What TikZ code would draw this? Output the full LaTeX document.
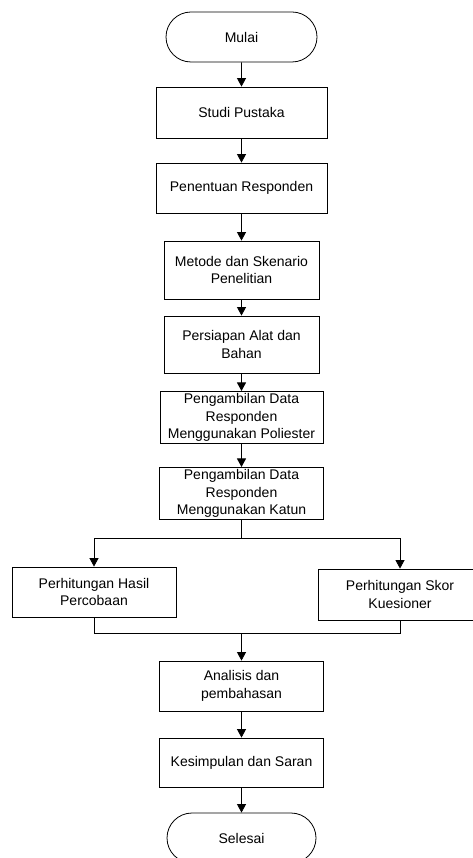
\documentclass[tikz,border=0pt]{standalone}
\usepackage{fontspec}
\setmainfont{Liberation Sans}
\usetikzlibrary{shapes.misc,arrows.meta}
\begin{document}
\begin{tikzpicture}[x=1pt,y=-1pt,
  every node/.style={font=\fontsize{14}{17.6}\selectfont, align=center, inner sep=2pt},
  box/.style={draw, line width=0.8pt, rectangle},
  term/.style={draw, line width=0.8pt, rounded rectangle, minimum width=155pt, minimum height=50pt},
  link/.style={line width=0.8pt},
  arr/.style={line width=0.8pt, -{Triangle[width=9pt,length=8.5pt]}}]
\path[use as bounding box, clip] (0,0) rectangle (473,858);
\node[term] (mulai) at (241.5,37) {Mulai};
\node[box, minimum width=171pt, minimum height=51pt] (studi) at (241.5,112.5) {Studi Pustaka};
\node[box, minimum width=171pt, minimum height=50pt] (penentuan) at (241.5,188) {Penentuan Responden};
\node[box, minimum width=155pt, minimum height=58pt] (metode) at (241.5,270) {Metode dan Skenario\\Penelitian};
\node[box, minimum width=155pt, minimum height=57pt] (persiapan) at (241.5,344.5) {Persiapan Alat dan\\Bahan};
\node[box, minimum width=163pt, minimum height=51pt] (poliester) at (241.5,417.5) {Pengambilan Data\\Responden\\Menggunakan Poliester};
\node[box, minimum width=164pt, minimum height=51pt] (katun) at (241.5,493.5) {Pengambilan Data\\Responden\\Menggunakan Katun};
\node[box, minimum width=164pt, minimum height=50pt] (hasil) at (94,592) {Perhitungan Hasil\\Percobaan};
\node[box, minimum width=164pt, minimum height=51pt] (skor) at (400,594.5) {Perhitungan Skor\\Kuesioner};
\node[box, minimum width=164pt, minimum height=50pt] (analisis) at (241.5,686) {Analisis dan\\pembahasan};
\node[box, minimum width=164pt, minimum height=49pt] (kesimpulan) at (241.5,762.5) {Kesimpulan dan Saran};
\node[term, minimum width=153pt] (selesai) at (241.5,838) {Selesai};
\coordinate (split) at (241.5,538);
\coordinate (merge) at (241.5,633);
\draw[arr] (mulai) -- (studi);
\draw[arr] (studi) -- (penentuan);
\draw[arr] (penentuan) -- (metode);
\draw[arr] (metode) -- (persiapan);
\draw[arr] (persiapan) -- (poliester);
\draw[arr] (poliester) -- (katun);
\draw[link] (katun) -- (split);
\draw[arr] (split) -| (hasil);
\draw[arr] (split) -| (skor);
\draw[link] (hasil) |- (merge);
\draw[link] (skor) |- (merge);
\draw[arr] (merge) -- (analisis);
\draw[arr] (analisis) -- (kesimpulan);
\draw[arr] (kesimpulan) -- (selesai);
\end{tikzpicture}
\end{document}
